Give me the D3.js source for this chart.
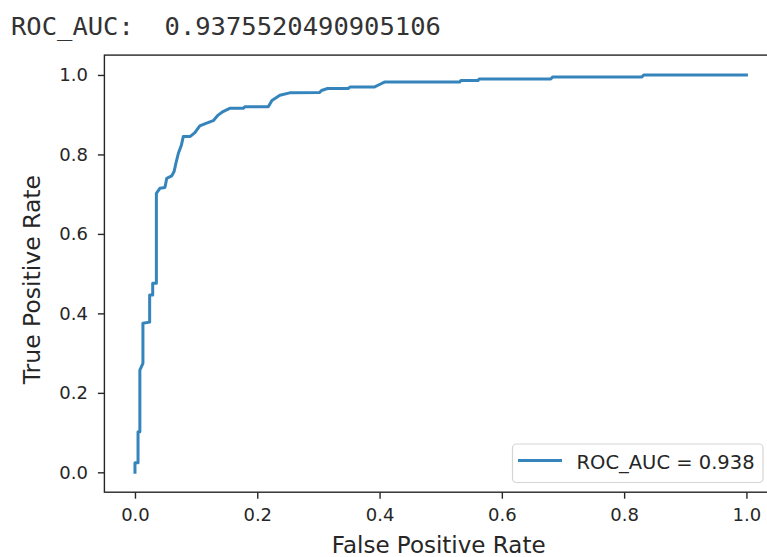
<!DOCTYPE html>
<html>
<head>
<meta charset="utf-8">
<script src="https://cdn.jsdelivr.net/npm/d3@7"></script>
<style>
  html, body { margin: 0; padding: 0; background: #fff; }
  svg { display: block; }
  .tick text { font-family: "DejaVu Sans", sans-serif; fill: #262626; }
</style>
</head>
<body>
<svg id="chart" width="767" height="557"></svg>
<script>
// ROC curve points (false positive rate, true positive rate)
const fpr = [0, 0, 0.005, 0.005, 0.008, 0.008, 0.013, 0.013, 0.024, 0.024, 0.029, 0.029, 0.035, 0.035,
  0.041, 0.049, 0.052, 0.060, 0.064, 0.067, 0.071, 0.076, 0.079, 0.090, 0.098, 0.106, 0.114, 0.128,
  0.136, 0.144, 0.155, 0.177, 0.180, 0.218, 0.224, 0.237, 0.253, 0.302, 0.305, 0.315, 0.349, 0.352,
  0.392, 0.400, 0.408, 0.531, 0.533, 0.561, 0.563, 0.680, 0.683, 0.829, 0.832, 1.0];
const tpr = [0, 0.024, 0.024, 0.102, 0.102, 0.257, 0.274, 0.375, 0.378, 0.446, 0.446, 0.476, 0.476, 0.702,
  0.715, 0.717, 0.740, 0.746, 0.757, 0.778, 0.803, 0.824, 0.845, 0.845, 0.855, 0.872, 0.877, 0.885,
  0.899, 0.908, 0.916, 0.916, 0.920, 0.920, 0.936, 0.949, 0.955, 0.956, 0.961, 0.966, 0.966, 0.970,
  0.970, 0.976, 0.982, 0.982, 0.986, 0.986, 0.990, 0.990, 0.995, 0.995, 1.0, 1.0];

const aucValue = 0.9375520490905106;
const headerLabel = "ROC_AUC:";
const legendLabel = "ROC_AUC = " + aucValue.toFixed(3);
const xLabel = "False Positive Rate";
const yLabel = "True Positive Rate";
const tickValues = [0, 0.2, 0.4, 0.6, 0.8, 1.0];

const svg = d3.select("#chart");
const W = 767, H = 557;
svg.append("rect").attr("width", W).attr("height", H).attr("fill", "#fff");

// Printed score above the figure
svg.append("text")
  .attr("x", 11).attr("y", 35)
  .attr("font-family", "'DejaVu Sans Mono', monospace")
  .attr("font-size", 25.5)
  .attr("fill", "#333")
  .attr("xml:space", "preserve")
  .style("white-space", "pre")
  .text(headerLabel + "  " + aucValue.toString());

// Axes box (right edge runs past the figure)
const axLeft = 104.4, axRight = 777, axTop = 55.1, axBottom = 492.2;
const x = d3.scaleLinear().domain([-0.05, 1.05]).range([axLeft, axRight]);
const y = d3.scaleLinear().domain([-0.05, 1.05]).range([axBottom, axTop]);

const fmt = d3.format(".1f");

const gx = svg.append("g").attr("transform", `translate(0,${axBottom})`)
  .call(d3.axisBottom(x).tickValues(tickValues).tickFormat(fmt).tickSize(6.5).tickPadding(10).tickSizeOuter(0));
gx.select(".domain").remove();
gx.selectAll(".tick line").attr("stroke", "#262626").attr("stroke-width", 1.4);
gx.selectAll(".tick text").attr("font-size", 18);

const gy = svg.append("g").attr("transform", `translate(${axLeft},0)`)
  .call(d3.axisLeft(y).tickValues(tickValues).tickFormat(fmt).tickSize(6.5).tickPadding(10).tickSizeOuter(0));
gy.select(".domain").remove();
gy.selectAll(".tick line").attr("stroke", "#262626").attr("stroke-width", 1.4);
gy.selectAll(".tick text").attr("font-size", 18);

// Spines
svg.append("rect")
  .attr("x", axLeft).attr("y", axTop)
  .attr("width", axRight - axLeft).attr("height", axBottom - axTop)
  .attr("fill", "none").attr("stroke", "#262626").attr("stroke-width", 1.4);

// Curve
const pts = fpr.map((f, i) => [f, tpr[i]]);
const line = d3.line().x(d => x(d[0])).y(d => y(d[1]));
svg.append("path")
  .datum(pts)
  .attr("d", line)
  .attr("fill", "none")
  .attr("stroke", "#1f77b4")
  .attr("stroke-opacity", 0.9)
  .attr("stroke-width", 3)
  .attr("stroke-linejoin", "round")
  .attr("stroke-linecap", "square");

// Axis labels
svg.append("text")
  .attr("x", (axLeft + axRight) / 2 - 2).attr("y", 553)
  .attr("text-anchor", "middle")
  .attr("font-family", "'DejaVu Sans', sans-serif")
  .attr("font-size", 23)
  .attr("fill", "#262626")
  .text(xLabel);

svg.append("text")
  .attr("transform", `translate(40,${(axTop + axBottom) / 2 + 6}) rotate(-90)`)
  .attr("text-anchor", "middle")
  .attr("font-family", "'DejaVu Sans', sans-serif")
  .attr("font-size", 23.5)
  .attr("fill", "#262626")
  .text(yLabel);

// Legend
const lg = svg.append("g");
lg.append("rect")
  .attr("x", 512.5).attr("y", 444)
  .attr("width", 250.5).attr("height", 38.5)
  .attr("rx", 4).attr("ry", 4)
  .attr("fill", "#fff").attr("fill-opacity", 0.8)
  .attr("stroke", "#d5d5d5").attr("stroke-width", 1.2);
lg.append("line")
  .attr("x1", 518).attr("x2", 562)
  .attr("y1", 460.5).attr("y2", 460.5)
  .attr("stroke", "#1f77b4").attr("stroke-opacity", 0.9).attr("stroke-width", 3);
lg.append("text")
  .attr("x", 576.5).attr("y", 469)
  .attr("font-family", "'DejaVu Sans', sans-serif")
  .attr("font-size", 19.5)
  .attr("fill", "#262626")
  .text(legendLabel);
</script>
</body>
</html>
